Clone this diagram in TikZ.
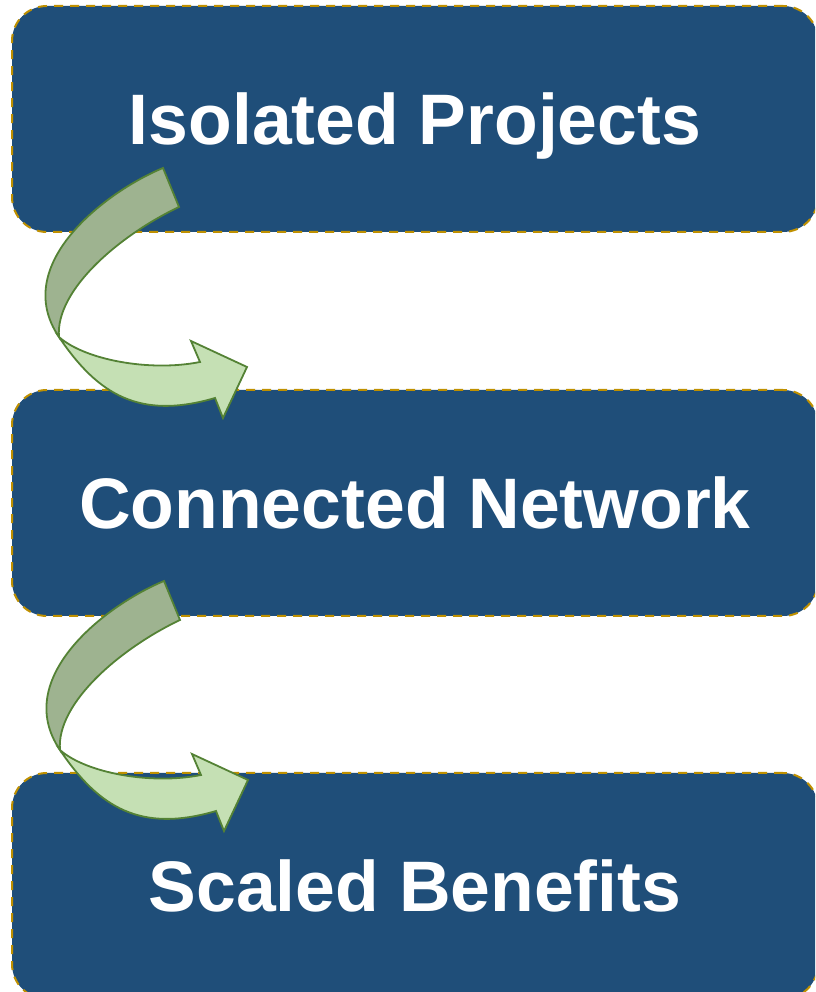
\documentclass[tikz,border=0pt]{standalone}
\usepackage{fontspec}
\setmainfont{Liberation Sans}
\usetikzlibrary{positioning}
\definecolor{boxblue}{RGB}{31,78,121}
\definecolor{edgegold}{RGB}{191,144,0}
\definecolor{leafgreen}{RGB}{197,224,180}
\definecolor{mossgreen}{RGB}{158,179,144}
\definecolor{linegreen}{RGB}{84,130,53}

\begin{document}
\begin{tikzpicture}[
        x=1pt, y=1pt,
        stage/.style={rectangle, draw=edgegold, fill=boxblue, line width=2pt, dash pattern=on 9pt off 7pt, rounded corners=35pt, minimum width=806pt, minimum height=226pt, text=white, text height=51pt, text depth=0pt, font=\fontsize{71.5}{80}\selectfont\bfseries},
        bentarrow/.pic={
            % back half of the ribbon
            \draw[linegreen, line width=1.8pt, fill=mossgreen] (104,169) .. controls (46,145) and (-49,72) .. (0,0) .. controls (-4,47) and (61,102) .. (120,130) -- cycle;
            % front half with the head
            \draw[linegreen, line width=1.8pt, fill=leafgreen] (0,0) .. controls (39,-58) and (81,-83) .. (156,-61) -- (164,-81) -- (188,-30) -- (132,-4) -- (141,-25) .. controls (91,-35) and (26,-23) .. (0,0) -- cycle;
        }
    ]
    \clip (0,0) rectangle (815,992);
    \node[stage] (isolated) at (415,873) {Isolated Projects};
    \node[stage, below=156pt of isolated] (network) {Connected Network};
    \node[stage, below=155pt of network] (benefits) {Scaled Benefits};

    \pic at (59,655) {bentarrow};
    \pic at (60,242) {bentarrow};
\end{tikzpicture}
\end{document}
